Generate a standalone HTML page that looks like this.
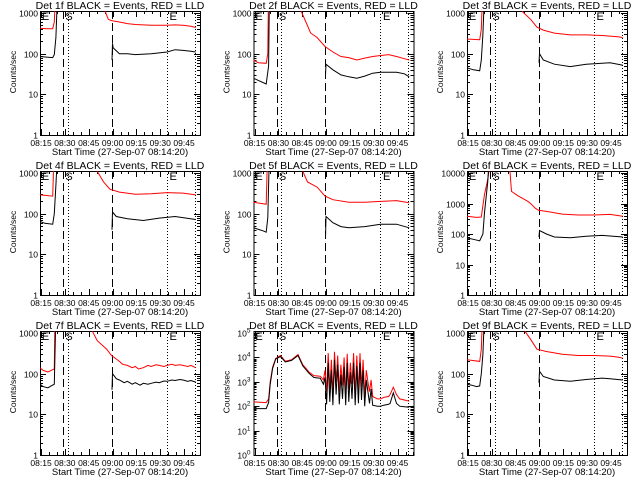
<!DOCTYPE html>
<html><head><meta charset="utf-8"><style>
html,body{margin:0;padding:0;background:#fff;}
svg{display:block;font-family:"Liberation Sans",sans-serif;}
</style></head><body>
<svg id="chart" width="640" height="480" viewBox="0 0 640 480" xmlns="http://www.w3.org/2000/svg">
<rect width="640" height="480" fill="#fff"/>
</svg>
<script>
// time in minutes since 08:14:20; null = gap (off-scale / no data)
const tickLabels = ["08:15","08:30","08:45","09:00","09:15","09:30","09:45"];
const tickTimes = [0.67,15.67,30.67,45.67,60.67,75.67,90.67];
const dashedTimes = [14.5,45.3];
const dottedTimes = [17.6,79.9,97.5];
const eMarkTimes = [1.2,81.5];
const sMarkTime = [17.2];
const tMax = 100.7;
const decades = [3,3,3,3,3,4,3,5,3];
const titles = ["Det 1f BLACK = Events, RED = LLD","Det 2f BLACK = Events, RED = LLD","Det 3f BLACK = Events, RED = LLD","Det 4f BLACK = Events, RED = LLD","Det 5f BLACK = Events, RED = LLD","Det 6f BLACK = Events, RED = LLD","Det 7f BLACK = Events, RED = LLD","Det 8f BLACK = Events, RED = LLD","Det 9f BLACK = Events, RED = LLD"];

const det1RedT=[0,4,8,9,10,10.1,41,43,45,50,55,60,70,80,85,90,95,98];
const det1RedV=[420,410,410,600,5000,null,1100,700,650,600,550,520,500,500,510,500,470,440];
const det1BlkT=[0,5,8,9,10,11,11.1,45.3,45.6,46,50,55,60,70,80,85,90,95,98];
const det1BlkV=[85,82,80,95,250,3000,null,70,180,140,100,100,95,100,110,125,120,115,110];

const det2RedT=[0,3,8,9,9.5,9.6,30,33,36,40,45,50,55,60,65,70,75,80,85,90,95,98];
const det2RedV=[70,60,58,100,5000,null,1100,600,320,250,150,110,85,80,70,78,85,90,95,85,75,70];
const det2BlkT=[0,3,8,9.5,10,10.1,45.3,45.6,50,55,60,65,70,75,80,85,90,95,98];
const det2BlkV=[25,22,18,50,3000,null,30,55,40,30,27,25,28,33,35,35,35,32,27];

const det3RedT=[0,8,9,10,10.1,34.6,40,44,48,55,65,75,85,95,98];
const det3RedV=[230,220,400,5000,null,1100,700,450,380,320,290,290,280,260,250];
const det3BlkT=[0,4,8,9,10,11,11.1,45.3,45.6,48,55,65,75,85,90,95,98];
const det3BlkV=[45,40,38,70,300,3000,null,60,100,70,55,48,55,58,60,55,52];

const det4RedT=[0,8,9,9.1,36,40,44,50,60,70,80,90,98];
const det4RedV=[290,270,5000,null,1100,600,400,340,300,310,330,320,290];
const det4BlkT=[0,3,8,9,10,11,11.1,45.3,45.6,48,55,65,75,85,98];
const det4BlkV=[65,58,55,100,500,3000,null,40,110,85,75,68,78,85,72];

const det5RedT=[0,6,8,9,9.1,31,34,40,45,50,60,70,80,90,98];
const det5RedV=[190,175,170,5000,null,1100,600,450,270,220,190,190,200,210,185];
const det5BlkT=[0,6,8,9,10,10.1,45.3,45.6,50,55,60,70,80,90,98];
const det5BlkV=[45,38,35,80,3000,null,25,85,60,48,45,48,55,55,45];

const det6RedT=[0,6,9,11,13,15,15.1,27,28,32,38,40,43,45,50,60,70,80,90,98];
const det6RedV=[380,350,360,2000,6000,30000,null,12000,2500,1800,1200,1000,700,600,550,450,420,420,440,380];
const det6BlkT=[0,5,8,10,11,13,14,14.1,45.3,45.6,50,55,65,75,85,98];
const det6BlkV=[75,65,60,100,500,5000,30000,null,80,130,100,80,75,85,90,80];

const det7RedT=[0,2,5,7,9,9.5,9.6,33,36,42,45,48,50,52,55,58,60,62,65,68,70,73,75,78,80,83,85,88,90,93,95,98];
const det7RedV=[140,120,110,120,130,5000,null,1100,650,400,280,230,200,170,160,140,150,130,140,160,150,165,160,150,160,170,160,165,160,150,160,140];
const det7BlkT=[0,2,5,7,9,10,10.1,45.3,45.6,48,50,53,55,58,60,63,65,68,70,73,75,78,80,83,85,88,90,93,95,98];
const det7BlkV=[55,48,45,50,55,3000,null,40,100,75,70,60,65,55,60,52,58,55,58,62,60,66,65,70,68,72,70,65,68,62];

const det8RedT=[0,4,8,9.5,10.5,12,14,17,20,24,28,31,35,38,42,44,45,46,47,48,49,50,51,52,53,54,55,56,57,58,59,60,61,62,63,64,65,66,67,68,69,70,71,72,73,74,75,78,80,82,85,86,88,90,92,95,98];
const det8RedV=[150,145,140,200,1000,4000,9000,12000,7000,8000,13000,5000,2500,1800,1700,1200,3000,400,15000,500,8000,300,17000,1000,12000,400,5000,700,10000,300,14000,500,6000,800,15000,300,12000,400,15000,600,8000,250,3000,1000,400,1200,250,200,200,230,250,300,600,300,200,180,160];
const det8BlkT=[0,4,8,9.5,10.5,12,14,17,20,24,28,31,35,38,42,44,45,46,47,48,49,50,51,52,53,54,55,56,57,58,59,60,61,62,63,64,65,66,67,68,69,70,71,72,73,74,75,78,80,82,85,86,88,90,92,95,98];
const det8BlkV=[80,80,80,140,800,3500,8500,11000,6500,7500,12000,4500,2200,1500,1400,800,1500,120,6000,150,3000,110,8000,300,5000,120,2000,200,4000,110,6000,150,2500,200,6000,110,4500,130,6000,180,3000,100,1200,400,130,500,110,100,100,110,120,130,350,130,100,95,90];

const det9RedT=[0,8,9,10,10.1,36.5,40,44,50,60,70,80,90,95,98];
const det9RedV=[220,200,400,5000,null,1100,700,400,350,300,280,280,270,255,240];
const det9BlkT=[0,3,6,8,9,10,11,11.1,45.3,45.6,48,55,65,75,85,90,98];
const det9BlkV=[55,52,48,50,100,300,3000,null,60,115,85,70,65,72,78,75,70];

const redTimes=[det1RedT,det2RedT,det3RedT,det4RedT,det5RedT,det6RedT,det7RedT,det8RedT,det9RedT];
const redVals=[det1RedV,det2RedV,det3RedV,det4RedV,det5RedV,det6RedV,det7RedV,det8RedV,det9RedV];
const blkTimes=[det1BlkT,det2BlkT,det3BlkT,det4BlkT,det5BlkT,det6BlkT,det7BlkT,det8BlkT,det9BlkT];
const blkVals=[det1BlkV,det2BlkV,det3BlkV,det4BlkV,det5BlkV,det6BlkV,det7BlkV,det8BlkV,det9BlkV];

const NS="http://www.w3.org/2000/svg";
const svg=document.getElementById('chart');
function mk(tag,attrs,parent){const e=document.createElementNS(NS,tag);for(const k in attrs)e.setAttribute(k,attrs[k]);parent.appendChild(e);return e;}

const BL=40,BR=200,BT=11,BB=135;
for(let p=0;p<9;p++){
  const ox=(p%3)*213.5, oy=Math.floor(p/3)*160;
  const D=decades[p];
  const xS=t=>ox+BL+t/tMax*(BR-BL);
  const yS=v=>oy+BB-Math.log10(Math.max(v,0.1))/D*122;
  const g=mk('g',{},svg);
  
  
  const cp=mk('clipPath',{id:'cp'+p},g);
  mk('rect',{x:ox+BL,y:oy+BT,width:BR-BL,height:BB-BT},cp);
  const ti=mk('text',{x:ox+120,y:oy+9,'text-anchor':'middle','font-size':10.5},g);
  ti.textContent=titles[p];
  
  
  const box=mk('rect',{x:ox+BL+0.5,y:oy+BT+0.5,width:BR-BL,height:BB-BT,fill:'none',stroke:'#000','stroke-width':1},g);
  
  
  for(let m=0;m*5+0.67<=tMax;m++){
    const t=0.67+m*5, x=Math.round(xS(t))+0.5, L=(m%3==0)?6:3;
    mk('line',{x1:x,x2:x,y1:oy+BB,y2:oy+BB-L,stroke:'#000'},g);
    mk('line',{x1:x,x2:x,y1:oy+BT,y2:oy+BT+L,stroke:'#000'},g);
  }
  tickTimes.forEach((t,i)=>{
    const tx=mk('text',{x:xS(t),y:oy+146,'text-anchor':'middle','font-size':8.5},g);
    tx.textContent=tickLabels[i];
    
    
  });
  const xt=mk('text',{x:ox+120,y:oy+155,'text-anchor':'middle','font-size':9.5},g);
  xt.textContent='Start Time (27-Sep-07 08:14:20)';
  
  
  const yt=mk('text',{x:0,y:0,'text-anchor':'middle','font-size':8.5,transform:`translate(${ox+16},${oy+72}) rotate(-90)`},g);
  yt.textContent='Counts/sec';
  
  
  for(let d=0;d<=D;d++){
    const y=Math.round(yS(Math.pow(10,d)))+0.5;
    mk('line',{x1:ox+BL,x2:ox+BL+6,y1:y,y2:y,stroke:'#000'},g);
    mk('line',{x1:ox+BR-6,x2:ox+BR,y1:y,y2:y,stroke:'#000'},g);
    let lab;
    if(D==5){
      lab=mk('text',{x:ox+BL-3,y:y+3,'text-anchor':'end','font-size':8.5},g);
      lab.appendChild(document.createTextNode('10'));
      const s=mk('tspan',{dy:-4,'font-size':6.5},lab);s.textContent=String(d);
    } else {
      lab=mk('text',{x:ox+BL-2,y:y+3,'text-anchor':'end','font-size':8.5},g);
      lab.textContent=String(Math.pow(10,d));
    }
    
    
    if(d<D){for(let k=2;k<=9;k++){const yy=Math.round(yS(k*Math.pow(10,d)))+0.5;
      mk('line',{x1:ox+BL,x2:ox+BL+3,y1:yy,y2:yy,stroke:'#000'},g);
      mk('line',{x1:ox+BR-3,x2:ox+BR,y1:yy,y2:yy,stroke:'#000'},g);}}
  }
  dashedTimes.forEach(t=>{const x=Math.round(xS(t))+0.5;
    const l=mk('line',{x1:x,x2:x,y1:oy+BT,y2:oy+BB,stroke:'#000','stroke-dasharray':'8,4'},g);
    
    });
  dottedTimes.forEach(t=>{const x=Math.round(xS(t))+0.5;
    const l=mk('line',{x1:x,x2:x,y1:oy+BT,y2:oy+BB,stroke:'#000','stroke-dasharray':'1,2'},g);
    
    });
  const draw=(T,V,col,name)=>{
    const segs=[];let cur=[];
    T.forEach((t,i)=>{ if(V[i]===null){ if(cur.length)segs.push(cur); cur=[]; } else cur.push(xS(t).toFixed(1)+','+yS(V[i]).toFixed(1)); });
    if(cur.length)segs.push(cur);
    segs.forEach(s=>{
      const pl=mk('polyline',{points:s.join(' '),fill:'none',stroke:col,'stroke-width':1,'clip-path':`url(#cp${p})`},g);
      
      
    });
  };
  draw(redTimes[p],redVals[p],'#f00','lld-series');
  draw(blkTimes[p],blkVals[p],'#000','events-series');
  eMarkTimes.forEach(t=>{const e=mk('text',{x:xS(t),y:oy+20,'font-size':11},g);e.textContent='E';
    
    });
  const s=mk('text',{x:xS(sMarkTime[0])-2,y:oy+20,'font-size':11},g);s.textContent='S';
  
  
}
</script>
</body></html>
